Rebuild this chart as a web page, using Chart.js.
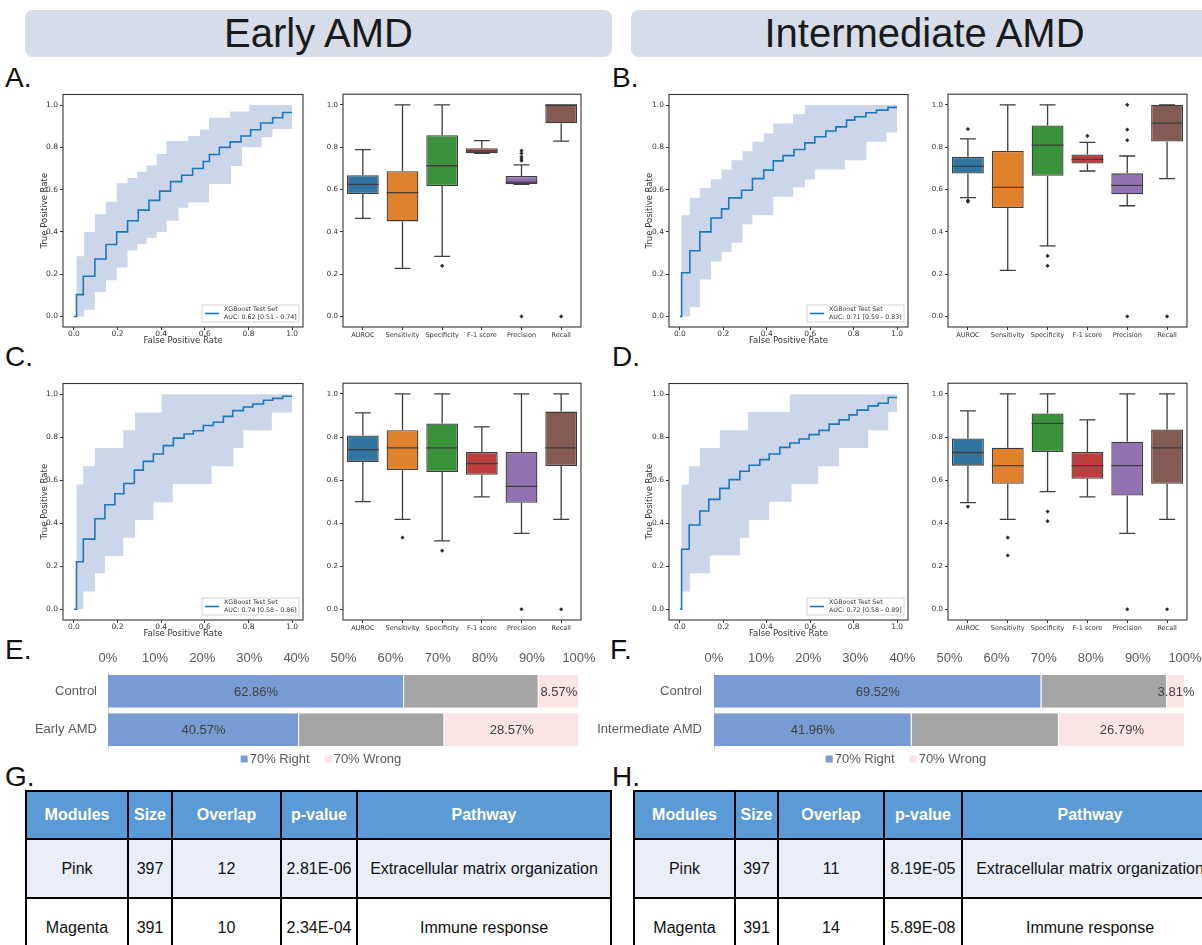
<!DOCTYPE html>
<html>
<head>
<meta charset="utf-8">
<script src="https://cdn.jsdelivr.net/npm/chart.js@4.4.1/dist/chart.umd.min.js"></script>
<style>
  body { margin: 0; width: 1202px; height: 945px; overflow: hidden; background: #fff; position: relative;
         font-family: "Liberation Sans", Arial, sans-serif; }
  .hdr { position: absolute; top: 10px; height: 47px; width: 587px; background: #d6dde8; border-radius: 8px;
         font-size: 40px; line-height: 47px; text-align: center; color: #1a1a1a; }
  .lbl { position: absolute; font-size: 28px; line-height: 1; color: #111; }
  canvas { position: absolute; }
  table { position: absolute; border-collapse: collapse; table-layout: fixed; font-size: 16px; color: #111; }
  th, td { border: 2px solid #000; text-align: center; padding: 0; white-space: nowrap; overflow: hidden; }
  th { background: #5b9bd5; color: #fff; font-weight: bold; }
  tr.head { height: 48px; }
  tr.row { height: 59px; }
  tr.alt td { background: #e9eef7; }
</style>
</head>
<body>
<div class="hdr" style="left:25px">Early AMD</div>
<div class="hdr" style="left:631px">Intermediate AMD</div>

<div class="lbl" style="left:5px;top:64px">A.</div>
<div class="lbl" style="left:612px;top:64px">B.</div>
<div class="lbl" style="left:5px;top:343px">C.</div>
<div class="lbl" style="left:612px;top:343px">D.</div>
<div class="lbl" style="left:5px;top:636px">E.</div>
<div class="lbl" style="left:610px;top:636px">F.</div>
<div class="lbl" style="left:5px;top:763px">G.</div>
<div class="lbl" style="left:612px;top:763px">H.</div>

<canvas id="rocA" width="272" height="263" style="left:36px;top:88px"></canvas>
<canvas id="boxA" width="263" height="263" style="left:323px;top:88px"></canvas>
<canvas id="rocB" width="272" height="263" style="left:641px;top:88px"></canvas>
<canvas id="boxB" width="264" height="263" style="left:928px;top:88px"></canvas>
<canvas id="rocC" width="272" height="267" style="left:36px;top:377px"></canvas>
<canvas id="boxC" width="263" height="267" style="left:323px;top:377px"></canvas>
<canvas id="rocD" width="272" height="267" style="left:641px;top:377px"></canvas>
<canvas id="boxD" width="264" height="267" style="left:928px;top:377px"></canvas>
<canvas id="barE" width="600" height="131" style="left:0px;top:645px"></canvas>
<canvas id="barF" width="617" height="131" style="left:585px;top:645px"></canvas>

<div id="tableG"></div>
<div id="tableH"></div>

<script>
// ---- ROC curves: [false positive rate, true positive rate], each point starts a step ----
const rocA_mean = [[0,0],[0.012,0.103],[0.043,0.19],[0.096,0.272],[0.147,0.34],[0.196,0.40],[0.246,0.453],[0.295,0.503],[0.344,0.549],[0.393,0.593],[0.443,0.638],[0.494,0.668],[0.544,0.70],[0.593,0.733],[0.621,0.766],[0.667,0.80],[0.716,0.826],[0.766,0.854],[0.81,0.883],[0.856,0.915],[0.911,0.94],[0.957,0.965],[1.0,0.965]];
const rocA_upper = [[0,0],[0.012,0.285],[0.047,0.40],[0.096,0.484],[0.147,0.543],[0.196,0.63],[0.246,0.655],[0.29,0.684],[0.333,0.714],[0.379,0.769],[0.425,0.83],[0.524,0.854],[0.578,0.883],[0.619,0.94],[0.716,0.97],[0.804,1.0],[1.0,1.0]];
const rocA_lower = [[0,0],[0.047,0.032],[0.096,0.116],[0.147,0.171],[0.196,0.231],[0.246,0.313],[0.29,0.343],[0.333,0.372],[0.379,0.40],[0.425,0.453],[0.479,0.514],[0.524,0.54],[0.619,0.627],[0.72,0.712],[0.77,0.80],[0.86,0.848],[0.91,0.887],[1.0,0.887]];

const rocB_mean = [[0,0],[0.008,0.207],[0.046,0.311],[0.092,0.40],[0.143,0.466],[0.192,0.509],[0.225,0.561],[0.284,0.597],[0.334,0.652],[0.386,0.692],[0.43,0.736],[0.475,0.761],[0.525,0.79],[0.575,0.821],[0.621,0.85],[0.672,0.877],[0.718,0.897],[0.767,0.929],[0.805,0.945],[0.856,0.964],[0.905,0.976],[0.958,0.989],[1.0,0.989]];
const rocB_upper = [[0,0],[0.008,0.479],[0.046,0.562],[0.092,0.608],[0.143,0.649],[0.192,0.695],[0.238,0.739],[0.288,0.782],[0.334,0.826],[0.386,0.866],[0.43,0.913],[0.521,0.957],[0.575,1.0],[1.0,1.0]];
const rocB_lower = [[0,0],[0.046,0.044],[0.092,0.175],[0.143,0.26],[0.192,0.305],[0.238,0.349],[0.288,0.436],[0.334,0.479],[0.43,0.566],[0.521,0.61],[0.575,0.648],[0.621,0.695],[0.76,0.739],[0.859,0.826],[0.951,0.87],[1.0,0.87]];

const rocC_mean = [[0,0],[0.012,0.221],[0.043,0.326],[0.096,0.421],[0.142,0.486],[0.188,0.537],[0.229,0.585],[0.277,0.647],[0.318,0.688],[0.364,0.722],[0.41,0.761],[0.456,0.796],[0.505,0.815],[0.547,0.83],[0.593,0.855],[0.639,0.87],[0.685,0.897],[0.728,0.924],[0.777,0.941],[0.82,0.955],[0.869,0.972],[0.911,0.981],[0.957,0.991],[1.0,0.991]];
const rocC_upper = [[0,0],[0.012,0.58],[0.043,0.665],[0.096,0.75],[0.226,0.832],[0.28,0.915],[0.402,1.0],[1.0,1.0]];
const rocC_lower = [[0,0],[0.043,0.083],[0.096,0.167],[0.142,0.248],[0.226,0.333],[0.28,0.415],[0.364,0.498],[0.453,0.583],[0.631,0.665],[0.731,0.75],[0.777,0.832],[0.907,0.915],[1.0,0.915]];

const rocD_mean = [[0,0],[0.008,0.279],[0.043,0.392],[0.092,0.457],[0.133,0.511],[0.184,0.562],[0.227,0.603],[0.276,0.642],[0.319,0.67],[0.368,0.696],[0.411,0.722],[0.46,0.753],[0.506,0.773],[0.549,0.792],[0.595,0.812],[0.641,0.832],[0.687,0.861],[0.733,0.881],[0.779,0.904],[0.816,0.926],[0.867,0.946],[0.913,0.958],[0.959,0.985],[1.0,0.985]];
const rocD_upper = [[0,0],[0.008,0.58],[0.041,0.665],[0.092,0.75],[0.184,0.832],[0.314,0.917],[0.506,1.0],[1.0,1.0]];
const rocD_lower = [[0,0],[0.008,0.083],[0.046,0.167],[0.138,0.25],[0.276,0.333],[0.319,0.415],[0.411,0.50],[0.514,0.583],[0.637,0.665],[0.733,0.75],[0.867,0.832],[0.959,0.917],[1.0,0.917]];

const aucA = 'AUC: 0.62 [0.51 - 0.74]';
const aucB = 'AUC: 0.71 [0.59 - 0.83]';
const aucC = 'AUC: 0.74 [0.58 - 0.86]';
const aucD = 'AUC: 0.72 [0.58 - 0.89]';

// ---- box plots ----
const metrics = ['AUROC', 'Sensitivity', 'Specificity', 'F-1 score', 'Precision', 'Recall'];
const boxColors = ['#3274a1', '#e1812c', '#3a923a', '#c03d3e', '#9372b2', '#845b53'];

const boxA_lo  = [0.463, 0.227, 0.284, 0.771, 0.624, 0.828];
const boxA_q1  = [0.578, 0.449, 0.616, 0.771, 0.624, 0.913];
const boxA_med = [0.624, 0.585, 0.712, 0.782, 0.635, 1.0];
const boxA_q3  = [0.667, 0.686, 0.856, 0.795, 0.664, 1.0];
const boxA_hi  = [0.788, 1.0, 1.0, 0.831, 0.716, 1.0];
const boxA_out = [['Specificity',0.239],['Precision',0.736],['Precision',0.745],['Precision',0.755],['Precision',0.77],['Precision',0.783],['Precision',0],['Recall',0]];

const boxB_lo  = [0.561, 0.218, 0.333, 0.687, 0.523, 0.651];
const boxB_q1  = [0.675, 0.512, 0.665, 0.722, 0.577, 0.826];
const boxB_med = [0.709, 0.61, 0.809, 0.742, 0.619, 0.913];
const boxB_q3  = [0.754, 0.782, 0.902, 0.765, 0.676, 1.0];
const boxB_hi  = [0.839, 1.0, 1.0, 0.822, 0.758, 1.0];
const boxB_out = [['AUROC',0.885],['AUROC',0.548],['AUROC',0.542],['Specificity',0.286],['Specificity',0.239],['F-1 score',0.853],['Precision',1.0],['Precision',0.883],['Precision',0.833],['Precision',0],['Recall',0]];

const boxC_lo  = [0.50, 0.417, 0.318, 0.522, 0.352, 0.417];
const boxC_q1  = [0.684, 0.647, 0.637, 0.625, 0.495, 0.665];
const boxC_med = [0.741, 0.75, 0.75, 0.677, 0.571, 0.75];
const boxC_q3  = [0.807, 0.832, 0.863, 0.73, 0.73, 0.918];
const boxC_hi  = [0.912, 1.0, 1.0, 0.847, 1.0, 1.0];
const boxC_out = [['Sensitivity',0.333],['Specificity',0.272],['Precision',0],['Recall',0]];

const boxD_lo  = [0.495, 0.417, 0.546, 0.522, 0.352, 0.417];
const boxD_q1  = [0.667, 0.583, 0.73, 0.606, 0.528, 0.583];
const boxD_med = [0.728, 0.667, 0.863, 0.667, 0.667, 0.75];
const boxD_q3  = [0.793, 0.75, 0.909, 0.73, 0.778, 0.835];
const boxD_hi  = [0.921, 1.0, 1.0, 0.88, 1.0, 1.0];
const boxD_out = [['AUROC',0.477],['Sensitivity',0.333],['Sensitivity',0.25],['Specificity',0.454],['Specificity',0.409],['Precision',0],['Recall',0]];

// ---- stacked bars (%) ----
const catsE = ['Control', 'Early AMD'];
const rightE = [62.86, 40.57];
const midE = [28.57, 30.86];
const wrongE = [8.57, 28.57];

const catsF = ['Control', 'Intermediate AMD'];
const rightF = [69.52, 41.96];
const midF = [26.67, 31.25];
const wrongF = [3.81, 26.79];

// ---- tables ----
const tableHead = ['Modules', 'Size', 'Overlap', 'p-value', 'Pathway'];
const tableG_rows = [['Pink','397','12','2.81E-06','Extracellular matrix organization'], ['Magenta','391','10','2.34E-04','Immune response']];
const tableH_rows = [['Pink','397','11','8.19E-05','Extracellular matrix organization'], ['Magenta','391','14','5.89E-08','Immune response']];

const unitTicks = [0, 0.2, 0.4, 0.6, 0.8, 1.0];
const DEJAVU = '"DejaVu Sans", sans-serif';
const ARIAL = '"Liberation Sans", Arial, sans-serif';
const INK = '#333';
const EDGE = '#3d3d3d';

Chart.defaults.font.family = DEJAVU;
Chart.defaults.color = INK;

// axes box like matplotlib spines
const frameBox = {
  id: 'frameBox',
  afterDraw(chart) {
    const a = chart.chartArea, ctx = chart.ctx;
    ctx.save();
    ctx.strokeStyle = INK;
    ctx.lineWidth = 1.1;
    ctx.strokeRect(a.left, a.top, a.right - a.left, a.bottom - a.top);
    ctx.restore();
  }
};

// small legend box in the lower right of the ROC axes
const rocLegend = {
  id: 'rocLegend',
  afterDatasetsDraw(chart, args, opts) {
    const a = chart.chartArea, ctx = chart.ctx;
    const w = 97, h = 17;
    const x = a.right - 4 - w, y = a.bottom - 5 - h;
    ctx.save();
    ctx.fillStyle = 'rgba(255,255,255,0.85)';
    ctx.fillRect(x, y, w, h);
    ctx.strokeStyle = '#cccccc';
    ctx.lineWidth = 0.8;
    ctx.strokeRect(x, y, w, h);
    ctx.strokeStyle = '#1f77b4';
    ctx.lineWidth = 1.6;
    ctx.beginPath();
    ctx.moveTo(x + 3, y + h / 2);
    ctx.lineTo(x + 17, y + h / 2);
    ctx.stroke();
    ctx.fillStyle = INK;
    ctx.font = '6.3px ' + DEJAVU;
    ctx.textBaseline = 'middle';
    ctx.fillText(opts.lines[0], x + 22, y + 4.8);
    ctx.fillText(opts.lines[1], x + 22, y + 12.2);
    ctx.restore();
  }
};

// whiskers, caps and medians for the box plots
const whiskers = {
  id: 'whiskers',
  afterDatasetsDraw(chart, args, o) {
    const ys = chart.scales.y, ctx = chart.ctx;
    ctx.save();
    ctx.strokeStyle = EDGE;
    ctx.lineWidth = 1.3;
    chart.getDatasetMeta(0).data.forEach((bar, i) => {
      const cx = bar.x, half = bar.width / 2;
      const pLo = ys.getPixelForValue(o.lo[i]), pHi = ys.getPixelForValue(o.hi[i]);
      const pQ1 = ys.getPixelForValue(o.q1[i]), pQ3 = ys.getPixelForValue(o.q3[i]);
      const pMed = ys.getPixelForValue(o.med[i]);
      ctx.beginPath();
      ctx.moveTo(cx, pHi); ctx.lineTo(cx, pQ3);
      ctx.moveTo(cx, pQ1); ctx.lineTo(cx, pLo);
      ctx.moveTo(cx - half / 2, pHi); ctx.lineTo(cx + half / 2, pHi);
      ctx.moveTo(cx - half / 2, pLo); ctx.lineTo(cx + half / 2, pLo);
      ctx.moveTo(cx - half, pMed); ctx.lineTo(cx + half, pMed);
      ctx.stroke();
    });
    ctx.restore();
  }
};

// percentage labels inside the stacked bars
const segLabels = {
  id: 'segLabels',
  afterDatasetsDraw(chart) {
    const ctx = chart.ctx;
    ctx.save();
    ctx.font = '13px ' + ARIAL;
    ctx.fillStyle = '#404040';
    ctx.textAlign = 'center';
    ctx.textBaseline = 'middle';
    [0, 2].forEach(di => {
      const ds = chart.data.datasets[di];
      chart.getDatasetMeta(di).data.forEach((bar, i) => {
        ctx.fillText(ds.data[i].toFixed(2) + '%', (bar.x + bar.base) / 2, bar.y + 1);
      });
    });
    ctx.restore();
  }
};

// Excel-like legend: small squares tight against the text, only the named series
const barLegend = {
  id: 'barLegend',
  afterDraw(chart, args, o) {
    const ctx = chart.ctx;
    const items = chart.data.datasets.filter(d => d.label !== '');
    const sq = 7, gap = 2, sep = 15;
    ctx.save();
    ctx.font = '13px ' + ARIAL;
    ctx.textBaseline = 'middle';
    const widths = items.map(d => sq + gap + ctx.measureText(d.label).width);
    const total = widths.reduce((s, w) => s + w, 0) + sep * (items.length - 1);
    let x = o.centerX - total / 2;
    const y = chart.chartArea.bottom + o.offsetY;
    items.forEach((d, k) => {
      ctx.fillStyle = d.backgroundColor;
      ctx.fillRect(x, y - sq / 2, sq, sq);
      ctx.fillStyle = '#595959';
      ctx.fillText(d.label, x + sq + gap, y);
      x += widths[k] + sep;
    });
    ctx.restore();
  }
};

function unitAxis(extra) {
  return Object.assign({
    type: 'linear', min: -0.05, max: 1.05,
    afterBuildTicks: s => { s.ticks = unitTicks.map(v => ({ value: v })); },
    grid: { drawOnChartArea: false, tickLength: 3, color: INK },
    border: { display: false },
    ticks: { font: { size: 7.5 }, color: INK, padding: 2, maxRotation: 0, callback: v => v.toFixed(1) }
  }, extra);
}

function rocChart(id, mean, upper, lower, aucText, yWidth) {
  const pts = arr => arr.map(p => ({ x: p[0], y: p[1] }));
  new Chart(document.getElementById(id), {
    type: 'line',
    data: {
      datasets: [
        // first dataset is painted last, so the mean line sits above the band
        { data: pts(mean), stepped: 'before', borderColor: '#1f77b4', borderWidth: 1.6, pointRadius: 0, fill: false },
        { data: pts(upper), stepped: 'before', borderWidth: 1, borderColor: 'rgba(0,0,0,0)', pointRadius: 0, backgroundColor: '#cbd6ea', fill: '+1' },
        { data: pts(lower), stepped: 'before', borderWidth: 1, borderColor: 'rgba(0,0,0,0)', pointRadius: 0, fill: false }
      ]
    },
    options: {
      responsive: false, animation: false, events: [],
      layout: { padding: { top: 5, right: 5, left: 0, bottom: 0 } },
      plugins: { legend: { display: false }, tooltip: { enabled: false }, rocLegend: { lines: ['XGBoost Test Set', aucText] } },
      scales: {
        x: unitAxis({
          afterFit: s => { s.height = 24; },
          ticks: { font: { size: 7.5 }, color: INK, padding: 0, maxRotation: 0, callback: v => v.toFixed(1) },
          title: { display: true, text: 'False Positive Rate', font: { size: 8.5 }, color: INK, padding: { top: 0, bottom: 5 } }
        }),
        y: unitAxis({
          afterFit: s => { s.width = yWidth; },
          title: { display: true, text: 'True Positive Rate', font: { size: 8.5 }, color: INK, padding: { top: 4, bottom: 0 } }
        })
      }
    },
    plugins: [frameBox, rocLegend]
  });
}

function boxChart(id, lo, q1, med, q3, hi, outliers) {
  new Chart(document.getElementById(id), {
    type: 'bar',
    data: {
      labels: metrics,
      datasets: [
        { data: q1.map((v, i) => [v, q3[i]]), backgroundColor: boxColors, borderColor: EDGE, borderWidth: 1.3,
          borderSkipped: false, barPercentage: 0.8, categoryPercentage: 1 },
        { type: 'line', data: outliers.map(o => ({ x: o[0], y: o[1] })), showLine: false, pointStyle: 'rectRot',
          pointRadius: 2.1, pointBackgroundColor: '#2b2b2b', pointBorderWidth: 0 }
      ]
    },
    options: {
      responsive: false, animation: false, events: [],
      layout: { padding: { top: 5, right: 5, left: 0, bottom: 0 } },
      plugins: { legend: { display: false }, tooltip: { enabled: false }, whiskers: { lo, q1, med, q3, hi } },
      scales: {
        x: {
          afterFit: s => { s.height = 24; },
          grid: { drawOnChartArea: false, tickLength: 3, color: INK, offset: false },
          border: { display: false },
          ticks: { font: { size: 6.5 }, color: INK, padding: 1, maxRotation: 0, autoSkip: false }
        },
        y: unitAxis({
          afterFit: s => { s.width = 20; },
          ticks: { font: { size: 7 }, color: INK, padding: 2, maxRotation: 0, callback: v => v.toFixed(1) }
        })
      }
    },
    plugins: [frameBox, whiskers]
  });
}

function stackChart(id, cats, right, mid, wrong, yWidth, yPad, padRight, legendX) {
  const lblFont = { size: 13, family: ARIAL };
  new Chart(document.getElementById(id), {
    type: 'bar',
    data: {
      labels: cats,
      datasets: [
        { label: '70% Right', data: right, backgroundColor: '#779bd2' },
        { label: '', data: mid, backgroundColor: '#a5a5a5' },
        { label: '70% Wrong', data: wrong, backgroundColor: '#fce4e4' }
      ]
    },
    options: {
      indexAxis: 'y', responsive: false, animation: false, events: [],
      datasets: { bar: { barPercentage: 0.86, categoryPercentage: 1, borderColor: '#ffffff', borderWidth: { right: 1 }, borderSkipped: false } },
      layout: { padding: { left: 0, right: padRight, top: 0, bottom: 27 } },
      plugins: {
        tooltip: { enabled: false },
        legend: { display: false },
        barLegend: { centerX: legendX, offsetY: 10 }
      },
      scales: {
        x: {
          stacked: true, position: 'top', min: 0, max: 100,
          afterFit: s => { s.height = 27; },
          grid: { display: false }, border: { display: false },
          ticks: { stepSize: 10, padding: -2, color: '#595959', font: lblFont, maxRotation: 0, autoSkip: false, callback: v => v + '%' }
        },
        y: {
          stacked: true,
          afterFit: s => { s.width = yWidth; },
          grid: { display: false }, border: { color: '#d9d9d9' },
          ticks: { padding: yPad, color: '#595959', font: lblFont }
        }
      }
    },
    plugins: [segLabels, barLegend]
  });
}

function buildTable(id, left, colWidths, rows) {
  const total = colWidths.reduce((s, w) => s + w, 0);
  let html = '<table style="left:' + left + 'px;top:790px;width:' + total + 'px"><colgroup>' +
    colWidths.map(w => '<col style="width:' + w + 'px">').join('') + '</colgroup>';
  html += '<tr class="head">' + tableHead.map(h => '<th>' + h + '</th>').join('') + '</tr>';
  rows.forEach((r, i) => {
    html += '<tr class="row' + (i === 0 ? ' alt' : '') + '">' + r.map(c => '<td>' + c + '</td>').join('') + '</tr>';
  });
  document.getElementById(id).innerHTML = html + '</table>';
}

rocChart('rocA', rocA_mean, rocA_upper, rocA_lower, aucA, 27);
rocChart('rocB', rocB_mean, rocB_upper, rocB_lower, aucB, 28);
rocChart('rocC', rocC_mean, rocC_upper, rocC_lower, aucC, 27);
rocChart('rocD', rocD_mean, rocD_upper, rocD_lower, aucD, 28);

boxChart('boxA', boxA_lo, boxA_q1, boxA_med, boxA_q3, boxA_hi, boxA_out);
boxChart('boxB', boxB_lo, boxB_q1, boxB_med, boxB_q3, boxB_hi, boxB_out);
boxChart('boxC', boxC_lo, boxC_q1, boxC_med, boxC_q3, boxC_hi, boxC_out);
boxChart('boxD', boxD_lo, boxD_q1, boxD_med, boxD_q3, boxD_hi, boxD_out);

stackChart('barE', catsE, rightE, midE, wrongE, 108, 3, 21, 321);
stackChart('barF', catsF, rightF, midF, wrongF, 129, 4, 17, 321);

buildTable('tableG', 25, [102, 44, 109, 76, 254], tableG_rows);
buildTable('tableH', 633, [101, 43, 106, 78, 256], tableH_rows);
</script>
</body>
</html>
